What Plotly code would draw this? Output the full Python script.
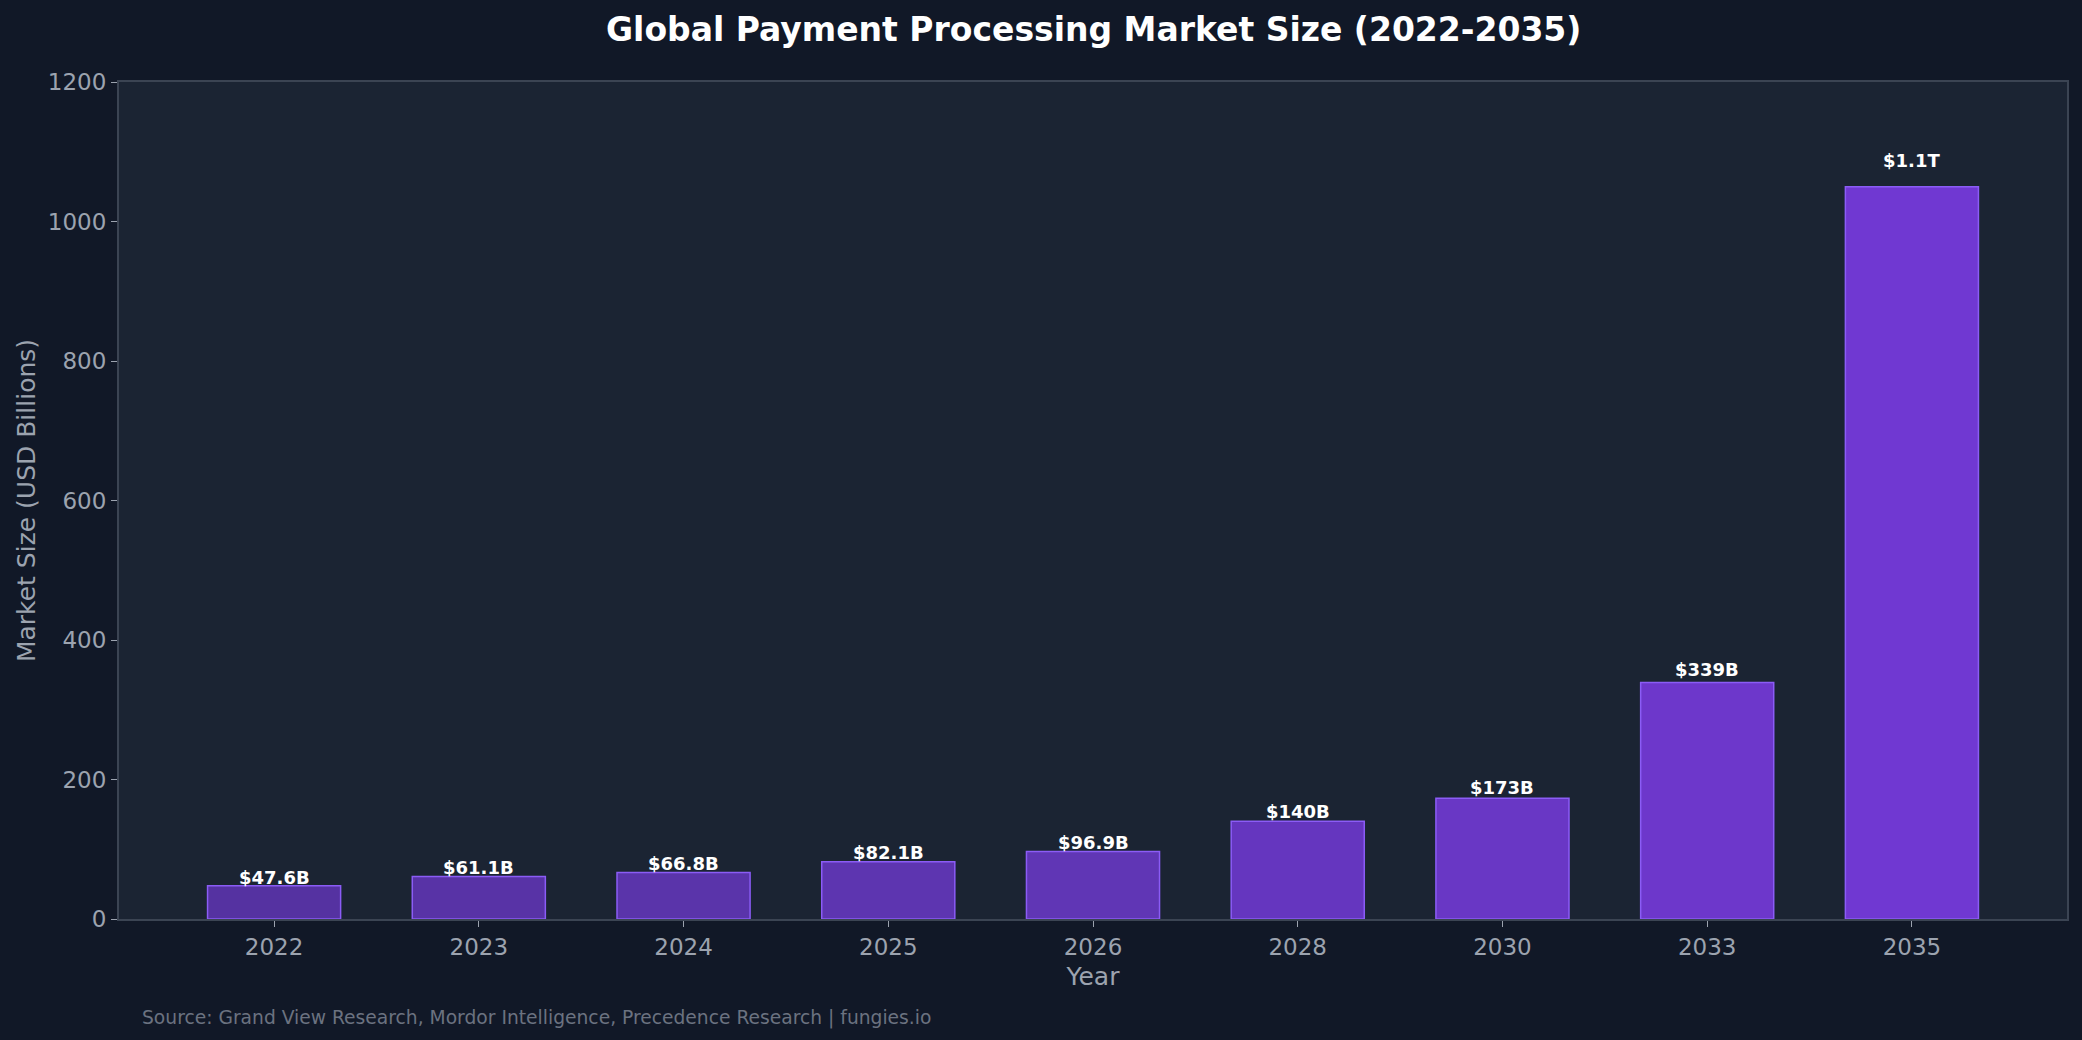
import plotly.graph_objects as go

years = ["2022", "2023", "2024", "2025", "2026", "2028", "2030", "2033", "2035"]
market_size = [47.6, 61.1, 66.8, 82.1, 96.9, 140, 173, 339, 1050]
bar_labels = ["$47.6B", "$61.1B", "$66.8B", "$82.1B", "$96.9B", "$140B", "$173B", "$339B", "$1.1T"]
bar_colors = ["#5532a1", "#5833a6", "#5a34aa", "#5d35b0", "#6036b5", "#6536bf", "#6937c5", "#6d37cb", "#7038d2"]
y_ticks = [0, 200, 400, 600, 800, 1000, 1200]

title_text = "Global Payment Processing Market Size (2022-2035)"
source_text = "Source: Grand View Research, Mordor Intelligence, Precedence Research | fungies.io"

FONT = "DejaVu Sans"
TICK = "#9ca3af"
SPINE = "#3b4453"

fig = go.Figure()
fig.add_trace(go.Bar(
    x=years, y=market_size, width=0.65,
    marker=dict(color=bar_colors, line=dict(color="#8b5cf6", width=1.5)),
    hoverinfo="x+y",
))

for i, (v, lab) in enumerate(zip(market_size, bar_labels)):
    fig.add_annotation(x=i, y=v * 1.025, text=f"<b>{lab}</b>", showarrow=False,
                       yanchor="bottom", xanchor="center", yshift=-5,
                       font=dict(family=FONT, size=18, color="#ffffff"))

fig.add_annotation(xref="paper", yref="paper", x=0.5, y=1, yshift=53, text=f"<b>{title_text}</b>",
                   showarrow=False, xanchor="center", yanchor="middle",
                   font=dict(family=FONT, size=33, color="#ffffff"))
fig.add_annotation(xref="paper", yref="paper", x=0, xshift=21, y=0, yshift=-99,
                   text=source_text, showarrow=False, xanchor="left", yanchor="middle",
                   font=dict(family=FONT, size=18.7, color="#6b7280"))

fig.update_layout(
    width=2082, height=1040,
    margin=dict(l=119, r=15, t=82, b=121),
    paper_bgcolor="#111827", plot_bgcolor="#1b2433",
    showlegend=False, bargap=0.35,
    font=dict(family=FONT, color=TICK),
)
fig.update_xaxes(
    type="category", range=[-0.7575, 8.7575],
    title=dict(text="Year", font=dict(family=FONT, size=25, color=TICK), standoff=9),
    tickfont=dict(family=FONT, size=23, color=TICK),
    ticks="outside", ticklen=6, tickcolor=TICK, tickwidth=1.2,
    showline=True, linecolor=SPINE, linewidth=2, mirror=True,
    showgrid=False, zeroline=False,
)
fig.update_yaxes(
    range=[0, 1200], tickvals=y_ticks,
    title=dict(text="Market Size (USD Billions)", font=dict(family=FONT, size=25, color=TICK), standoff=5),
    tickfont=dict(family=FONT, size=23, color=TICK),
    ticks="outside", ticklen=6, tickcolor=TICK, tickwidth=1.2,
    showline=True, linecolor=SPINE, linewidth=2, mirror=True,
    showgrid=False, zeroline=False,
)

fig.write_html("out.html")
